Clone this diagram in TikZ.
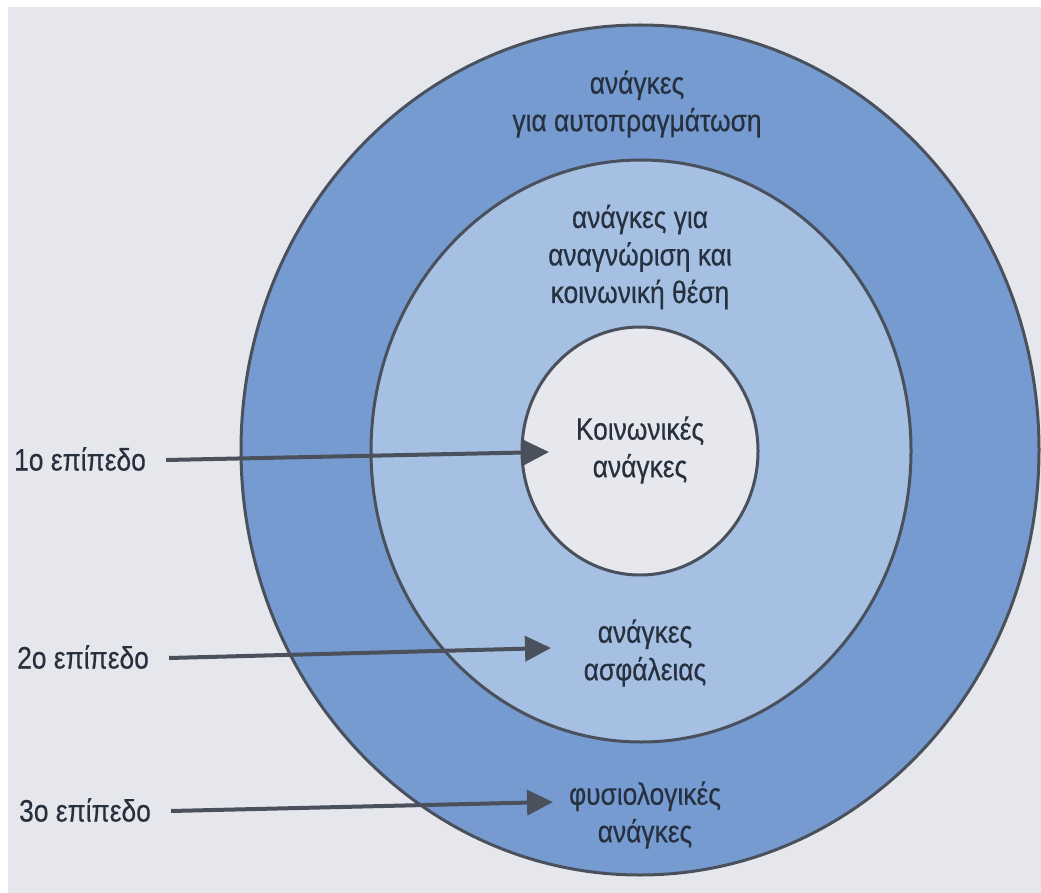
\documentclass[tikz,border=0pt]{standalone}
\usepackage{fontspec}
\setmainfont{Liberation Sans}[FakeStretch=0.85,FakeBold=0.4]
\usetikzlibrary{arrows.meta}
\definecolor{bgc}{HTML}{E5E7EC}
\definecolor{outerc}{HTML}{769BD0}
\definecolor{midc}{HTML}{A5C0E2}
\definecolor{innerc}{HTML}{E6E8EE}
\definecolor{linec}{HTML}{4A505C}
\definecolor{txtc}{HTML}{27303F}
\tikzset{
  ring/.style={draw=linec, line width=3pt},
  lbl/.style={text=txtc, align=center, inner sep=0pt, font=\fontsize{31}{37.5}\selectfont},
  lvl/.style={text=txtc, anchor=west, inner sep=0pt, font=\fontsize{31}{37.5}\selectfont},
  arr/.style={draw=linec, line width=4pt, -{Triangle[length=26pt,width=25pt]}}
}
\begin{document}
\begin{tikzpicture}[x=1pt,y=-1pt]
\useasboundingbox (0,0) rectangle (1041,893);
\fill[white] (0,0) rectangle (1041,893);
\fill[bgc] (8,7) rectangle (1041,893);
\draw[ring, fill=outerc] (640,450) ellipse [x radius=399pt, y radius=425pt];
\draw[ring, fill=midc] (641,451) ellipse [x radius=270pt, y radius=291pt];
\draw[ring, fill=innerc] (640,451) ellipse [x radius=118pt, y radius=124pt];
\node[lbl] (self) at (637,104) {ανάγκες\\για αυτοπραγμάτωση};
\node[lbl] (esteem) at (640,257) {ανάγκες για\\αναγνώριση και\\κοινωνική θέση};
\node[lbl] (social) at (640,450) {Κοινωνικές\\ανάγκες};
\node[lbl] (safety) at (645,653) {ανάγκες\\ασφάλειας};
\node[lbl] (phys) at (645,815) {φυσιολογικές\\ανάγκες};
\node[lvl] (l1) at (14,459) {1ο επίπεδο};
\node[lvl] (l2) at (17,657) {2ο επίπεδο};
\node[lvl] (l3) at (19,810) {3ο επίπεδο};
\coordinate (h1) at (549,452);
\coordinate (h2) at (551,648);
\coordinate (h3) at (553,802);
\draw[arr] ([xshift=20pt,yshift=-1pt]l1.east) -- (h1);
\draw[arr] ([xshift=20pt,yshift=-1pt]l2.east) -- (h2);
\draw[arr] ([xshift=20pt,yshift=-1pt]l3.east) -- (h3);
\end{tikzpicture}
\end{document}
